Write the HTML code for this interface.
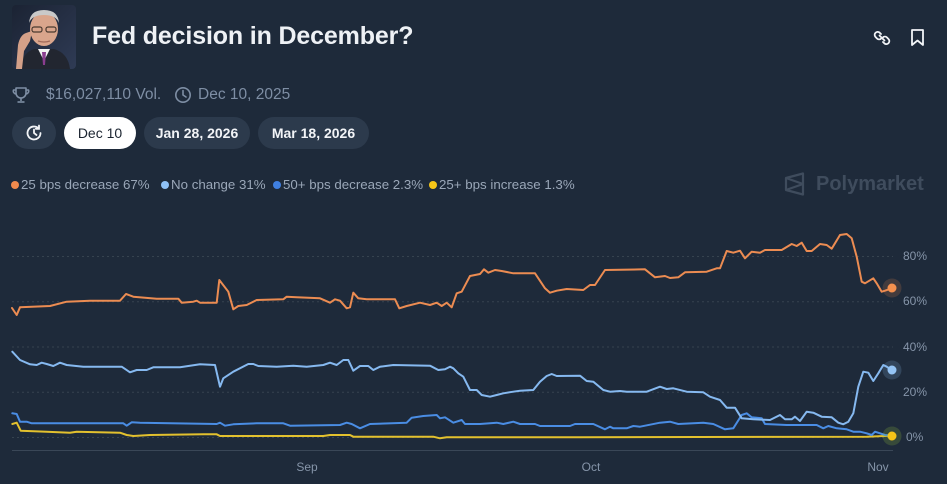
<!DOCTYPE html>
<html><head><meta charset="utf-8">
<style>
html,body{margin:0;padding:0;}
body{width:947px;height:484px;background:#1e2a3a;position:relative;overflow:hidden;font-family:"Liberation Sans",Arial,sans-serif;}
.abs{position:absolute;}
.title{left:92px;top:20px;font-size:25px;font-weight:bold;color:#eef1f5;letter-spacing:-0.15px;white-space:nowrap;line-height:32px;}
.meta{top:86px;font-size:15.5px;color:#7e8ea4;white-space:nowrap;line-height:18px;}
.btn{top:117px;height:32px;border-radius:16px;background:#2c3a4c;color:#f2f4f7;font-size:14px;font-weight:bold;line-height:32px;text-align:center;white-space:nowrap;}
.leg{top:177px;font-size:13.3px;color:#9aa7b8;white-space:nowrap;line-height:16px;}
.dot{position:absolute;width:8px;height:8px;border-radius:50%;top:181px;}
.ylab{font-size:12px;color:#8695a9;left:903px;line-height:14px;}
.xlab{font-size:12px;color:#8695a9;top:460px;line-height:14px;width:40px;text-align:center;}
</style></head><body>

<!-- avatar -->
<svg class="abs" style="left:12px;top:5px" width="64" height="64" viewBox="0 0 64 64">
<defs><clipPath id="av"><rect width="64" height="64" rx="4"/></clipPath>
<linearGradient id="avbg" x1="0" y1="0" x2="1" y2="1"><stop offset="0" stop-color="#1b2333"/><stop offset="1" stop-color="#2f3b55"/></linearGradient></defs>
<g clip-path="url(#av)">
<rect width="64" height="64" fill="url(#avbg)"/>
<path d="M8 64 Q10 48 22 44 L42 44 Q56 48 58 64Z" fill="#222630"/>
<path d="M26 44 L32 56 L38 44Z" fill="#f2f2f2"/>
<path d="M30 47 L34 47 L33 60 L31 60Z" fill="#8a3d8f"/>
<ellipse cx="32" cy="24" rx="14" ry="17" fill="#d9a58c"/>
<path d="M17 18 Q18 5 32 5 Q46 5 47 18 Q44 10 32 10 Q20 10 17 18Z" fill="#c9c9c9"/>
<rect x="20" y="22" width="10" height="5" rx="2" fill="none" stroke="#4a3a30" stroke-width="1.2"/>
<rect x="34" y="22" width="10" height="5" rx="2" fill="none" stroke="#4a3a30" stroke-width="1.2"/>
<path d="M4 64 L6 40 Q8 30 14 28 L20 26 L18 36 L12 46 L10 64Z" fill="#d4a088"/>
<path d="M26 36 Q32 38 38 36" stroke="#a06a5a" stroke-width="1.2" fill="none"/>
</g></svg>

<div class="abs title">Fed decision in December?</div>

<!-- link icon -->
<svg class="abs" style="left:872px;top:28px" width="20" height="20" viewBox="0 0 20 20" fill="none" stroke="#f2f4f7" stroke-width="1.8" stroke-linecap="round">
<path d="M9 6 L7.5 4.5 a3 3 0 0 0 -4.2 4.2 L5 10.5 a3 3 0 0 0 4.2 0"/>
<path d="M11 14 L12.5 15.5 a3 3 0 0 0 4.2 -4.2 L15 9.5 a3 3 0 0 0 -4.2 0"/>
<path d="M7.5 7.5 L12.5 12.5"/>
</svg>
<!-- bookmark -->
<svg class="abs" style="left:910px;top:28px" width="16" height="20" viewBox="0 0 16 20" fill="none" stroke="#f2f4f7" stroke-width="1.8" stroke-linejoin="round">
<path d="M2 2 H13 V17 L7.5 12.5 L2 17 Z"/>
</svg>

<!-- meta row -->
<svg class="abs" style="left:12px;top:86px" width="18" height="18" viewBox="0 0 18 18" fill="none" stroke="#7e8ea4" stroke-width="1.6" stroke-linejoin="round">
<path d="M4 2 H14 V7 a5 5 0 0 1 -10 0 Z"/><path d="M4 4 H1.5 a3 3 0 0 0 3 4"/><path d="M14 4 H16.5 a3 3 0 0 1 -3 4"/><path d="M9 12 V15"/><path d="M5.5 16 H12.5"/>
</svg>
<div class="abs meta" style="left:46px">$16,027,110 Vol.</div>
<svg class="abs" style="left:174px;top:86px" width="18" height="18" viewBox="0 0 18 18" fill="none" stroke="#7e8ea4" stroke-width="1.6" stroke-linecap="round">
<circle cx="9" cy="9" r="7.2"/><path d="M9 4.5 V9 L12 11"/>
</svg>
<div class="abs meta" style="left:198px">Dec 10, 2025</div>

<!-- buttons -->
<div class="abs btn" style="left:12px;width:44px;"></div>
<svg class="abs" style="left:24px;top:123px" width="20" height="20" viewBox="0 0 20 20" fill="none" stroke="#f2f4f7" stroke-width="1.8" stroke-linecap="round">
<path d="M16.5 10 a6.5 6.5 0 1 1 -2 -4.7"/><path d="M15 2.5 V5.8 H11.8"/><path d="M10 6.5 V10 L12.5 12"/>
</svg>
<div class="abs btn" style="left:64px;width:72px;background:#ffffff;color:#1b2430;font-weight:normal;">Dec 10</div>
<div class="abs btn" style="left:144px;width:106px;">Jan 28, 2026</div>
<div class="abs btn" style="left:258px;width:111px;">Mar 18, 2026</div>

<!-- legend -->
<span class="dot" style="left:11px;background:#f08a4d"></span>
<div class="abs leg" style="left:21px">25 bps decrease 67%</div>
<span class="dot" style="left:161px;background:#8fc1f5"></span>
<div class="abs leg" style="left:171px">No change 31%</div>
<span class="dot" style="left:273px;background:#3f7fe0"></span>
<div class="abs leg" style="left:283px">50+ bps decrease 2.3%</div>
<span class="dot" style="left:429px;background:#f5c518"></span>
<div class="abs leg" style="left:439px">25+ bps increase 1.3%</div>

<!-- polymarket logo -->
<svg class="abs" style="left:784px;top:172px" width="22" height="24" viewBox="0 0 22 24" fill="none" stroke="#3f4c5d" stroke-width="2.2" stroke-linejoin="round">
<path d="M2 6 L19 1.5 V22.5 L2 18 Z"/><path d="M2 6 L19 12 L2 18"/>
</svg>
<div class="abs" style="left:816px;top:172px;font-size:20px;font-weight:bold;color:#3f4c5d;line-height:24px;">Polymarket</div>

<!-- chart -->
<svg class="abs" style="left:0;top:0" width="947" height="484" viewBox="0 0 947 484">
<g stroke="#36434f" stroke-width="1" stroke-dasharray="2 3">
<line x1="12" y1="256.5" x2="893" y2="256.5"/>
<line x1="12" y1="301.75" x2="893" y2="301.75"/>
<line x1="12" y1="347" x2="893" y2="347"/>
<line x1="12" y1="392.25" x2="893" y2="392.25"/>
<line x1="12" y1="437.5" x2="893" y2="437.5"/>
</g>
<line x1="12" y1="450.5" x2="893" y2="450.5" stroke="#3a4757" stroke-width="1"/>
<g fill="none" stroke-width="2" stroke-linejoin="round" stroke-linecap="round">
<polyline stroke="#e3c12e" points="12.3,424 16.7,422.7 20.7,430.7 46.7,431.7 70,432.7 76.7,431.7 120,432.7 126.7,435 133.3,436 150,435 203.3,434.3 216.7,434.3 220,436 323.3,436 330,435 350,435 353.3,436.7 433.3,436.7 440,438.3 446.7,437.3 580,437.3 866.7,436.7 891.7,435.7"/>
<polyline stroke="#4a8de4" points="12.3,413.3 16.7,414 20,421.7 26.7,421.7 31.7,423.3 123.3,423.3 126.7,425.7 131.7,422.3 140,422.7 216.7,424 220,422.7 225,425.7 233.3,424.3 256.7,423.3 283.3,423.3 290,425.7 340,425 346.7,422.7 351.7,424 360,428.3 370,424 406.7,422.7 411.7,417.7 423.3,416 436.7,415 440,418.3 445,417.3 453.3,422.7 461.7,420 465,424 480,424 496.7,422.7 503.3,424 513.3,421.7 520,424 535,424 540,426 570,426 575,424 593.3,424 605,429.3 610,426.7 613.3,428.3 626.7,428.3 633.3,426 640,426.7 660,422.7 670,421.7 678.3,424 703.3,422.7 713.3,424 725,429.3 733.3,428.3 741.7,415 746.7,413.3 751.7,417.3 761.7,418.3 765,424 786.7,425 816.7,425 823.3,428.3 828.3,426 836.7,428.3 846.7,429.3 853.3,431.7 860,431.7 866.7,433.3 871.7,435 875,431.7 880,433.3 885,435 891.7,435.7"/>
<polyline stroke="#86b9f0" points="12.3,351.7 20,360 30,364.3 36.7,365 41.7,362.7 46.7,364 53.3,366 60,362.7 66.7,365 83.3,366.7 121.7,366.7 130,372.3 136.7,370 146.7,370 153.3,367.3 180,367.3 200,364.3 215,365 220,386.7 223.3,378.3 233.3,371.7 248.3,364 253.3,364 258.3,366 276.7,366.7 293.3,365.7 306.7,366.7 323.3,365 330,362.7 336.7,365 343.3,360 348.3,360 353.3,370.7 360,366 368.3,366 373.3,370 380,366.7 393.3,365 430,365.7 438.3,370 445,369.3 450,366.7 453.3,368.3 458.3,373.3 463.3,376.7 470,390 476.7,390 481.7,395 490,396.7 496.7,395 503.3,393.3 513.3,391.7 520,390.7 533.3,390 540,381.7 546.7,376 551.7,374 556.7,376 580,375.7 586.7,381 593.3,381.7 603.3,390 610,391.7 620,391 626.7,391.7 646.7,391.7 660,386.7 666.7,389 673.3,388.3 686.7,391.7 703.3,392.3 710,396.7 720,400 726.7,407.7 735,407.7 741.7,418.3 753.3,419.3 770,420 780,415 785,419.3 791.7,419.3 795,416.7 800,421 806.7,411.7 813.3,412.7 821.7,416.7 831.7,417.3 838.3,422.7 843.3,424.3 848.3,421.7 853.3,413.3 858.3,386.7 863.3,371.7 868.3,372.7 873.3,381 878.3,373.3 883.3,365 886.7,366.7 891.7,370"/>
<polyline stroke="#ec8c52" points="12,308 16.7,315 20,307.3 50,306 66.7,301.7 90,300.7 120,300.7 126,294 133.3,296.7 156.7,298.7 178.3,298.7 181.7,302.7 193.3,301.7 196.7,300.7 200,302.7 216.7,302.7 219.3,280 228.3,291.7 233.3,309.3 238.3,306 246.7,305 256.7,300 283.3,299.3 286.7,296.7 296.7,297.3 320,298.3 330,302.7 335,299.3 340,300.7 346.7,308.3 350,307.3 353.3,292.7 358.3,298.3 366.7,299.3 395,299.3 399.3,308.3 406.7,306 420,302.7 430,305 436.7,302.7 441.7,306 446.7,302.7 451.7,307.3 456.7,293.3 461.7,291.7 470,276 480,274 484,269.3 488.3,272.7 495,270 501.7,271 513.3,273.3 535,273.3 545,288.3 550,292.7 556.7,290.7 566.7,289 583.3,290 590,285 595,285 605,270 645,269.3 655,277.3 665,276 670,278 678.3,277.3 685,272.3 706.7,271.7 716.7,268.3 720,268.3 726.7,251 733.3,252.7 740,250.7 745,258.3 751.7,251.7 760,252.7 765,250 781.7,250 791.7,244 796.7,246 801.7,242.7 806.7,251 811.7,251 820,244 826.7,245 831.7,248.7 840,235 846.7,234 851.7,238.3 856.7,256.7 861.7,281.7 865,283.3 873.3,278.3 876.7,283.3 881.7,291.7 885,290.7 891.7,288.3"/>
</g>
<circle cx="892" cy="288" r="9.5" fill="#f08a4d" fill-opacity="0.18"/>
<circle cx="892" cy="288" r="4.5" fill="#f5914f"/>
<circle cx="892" cy="370" r="9.5" fill="#8fc1f5" fill-opacity="0.18"/>
<circle cx="892" cy="370" r="4.5" fill="#94c4f5"/>
<circle cx="892" cy="436" r="9.5" fill="#9ccc3c" fill-opacity="0.2"/>
<circle cx="892" cy="436" r="4.5" fill="#f5c518"/>
</svg>

<div class="abs ylab" style="top:249px">80%</div>
<div class="abs ylab" style="top:294px">60%</div>
<div class="abs ylab" style="top:340px">40%</div>
<div class="abs ylab" style="top:385px">20%</div>
<div class="abs ylab" style="top:430px;left:906px">0%</div>

<div class="abs xlab" style="left:287px">Sep</div>
<div class="abs xlab" style="left:571px">Oct</div>
<div class="abs xlab" style="left:858px">Nov</div>

</body></html>
